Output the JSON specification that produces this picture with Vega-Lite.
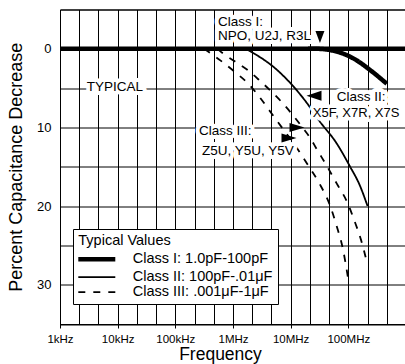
{
  "$schema": "https://vega.github.io/schema/vega-lite/v6.json",
  "width": 346,
  "height": 314.5,
  "autosize": {"type": "none"},
  "padding": {"left": 60, "top": 9.5, "right": 0, "bottom": 40},
  "background": "white",
  "config": {
    "font": "Liberation Sans",
    "view": {"stroke": "black", "strokeWidth": 1},
    "axis": {"domainColor": "black", "domainWidth": 1, "gridColor": "black", "gridOpacity": 1, "gridWidth": 1, "tickColor": "black", "labelColor": "black", "titleColor": "black", "titleFontWeight": "normal", "labelFont": "Liberation Sans", "titleFont": "Liberation Sans"}
  },
  "datasets": {
    "curves": [
      {"cls": "Class I: 1.0pF-100pF", "curve": "I0", "f": 1000, "pct": 0},
      {"cls": "Class I: 1.0pF-100pF", "curve": "I0", "f": 1000000000, "pct": 0},
      {"cls": "Class I: 1.0pF-100pF", "curve": "I1", "f": 20000000, "pct": 0},
      {"cls": "Class I: 1.0pF-100pF", "curve": "I1", "f": 28183829, "pct": 0},
      {"cls": "Class I: 1.0pF-100pF", "curve": "I1", "f": 52723358, "pct": 0.22},
      {"cls": "Class I: 1.0pF-100pF", "curve": "I1", "f": 87096359, "pct": 0.7},
      {"cls": "Class I: 1.0pF-100pF", "curve": "I1", "f": 139636836, "pct": 1.47},
      {"cls": "Class I: 1.0pF-100pF", "curve": "I1", "f": 229086765, "pct": 2.6},
      {"cls": "Class I: 1.0pF-100pF", "curve": "I1", "f": 464158883, "pct": 4.44},
      {"cls": "Class II: 100pF-.01μF", "curve": "II", "f": 1671090, "pct": 0},
      {"cls": "Class II: 100pF-.01μF", "curve": "II", "f": 5915616, "pct": 2.74},
      {"cls": "Class II: 100pF-.01μF", "curve": "II", "f": 11668096, "pct": 4.95},
      {"cls": "Class II: 100pF-.01μF", "curve": "II", "f": 20137242, "pct": 7.12},
      {"cls": "Class II: 100pF-.01μF", "curve": "II", "f": 30549211, "pct": 9.05},
      {"cls": "Class II: 100pF-.01μF", "curve": "II", "f": 62373483, "pct": 12.0},
      {"cls": "Class II: 100pF-.01μF", "curve": "II", "f": 106659612, "pct": 14.96},
      {"cls": "Class II: 100pF-.01μF", "curve": "II", "f": 156675107, "pct": 17.3},
      {"cls": "Class II: 100pF-.01μF", "curve": "II", "f": 215443469, "pct": 20},
      {"cls": "Class III: .001μF-1μF", "curve": "IIIa", "f": 316228, "pct": 0},
      {"cls": "Class III: .001μF-1μF", "curve": "IIIa", "f": 602560, "pct": 1.47},
      {"cls": "Class III: .001μF-1μF", "curve": "IIIa", "f": 1047129, "pct": 2.87},
      {"cls": "Class III: .001μF-1μF", "curve": "IIIa", "f": 1819701, "pct": 4.4},
      {"cls": "Class III: .001μF-1μF", "curve": "IIIa", "f": 2884032, "pct": 6.13},
      {"cls": "Class III: .001μF-1μF", "curve": "IIIa", "f": 4466836, "pct": 8.03},
      {"cls": "Class III: .001μF-1μF", "curve": "IIIa", "f": 6918310, "pct": 9.93},
      {"cls": "Class III: .001μF-1μF", "curve": "IIIa", "f": 11220185, "pct": 12.0},
      {"cls": "Class III: .001μF-1μF", "curve": "IIIa", "f": 19952623, "pct": 14.8},
      {"cls": "Class III: .001μF-1μF", "curve": "IIIa", "f": 31622777, "pct": 17.15},
      {"cls": "Class III: .001μF-1μF", "curve": "IIIa", "f": 46773514, "pct": 19.7},
      {"cls": "Class III: .001μF-1μF", "curve": "IIIa", "f": 63095734, "pct": 22.6},
      {"cls": "Class III: .001μF-1μF", "curve": "IIIa", "f": 81283052, "pct": 25.6},
      {"cls": "Class III: .001μF-1μF", "curve": "IIIa", "f": 100000000, "pct": 29.4},
      {"cls": "Class III: .001μF-1μF", "curve": "IIIb", "f": 537032, "pct": 0},
      {"cls": "Class III: .001μF-1μF", "curve": "IIIb", "f": 676083, "pct": 0.61},
      {"cls": "Class III: .001μF-1μF", "curve": "IIIb", "f": 1071519, "pct": 1.59},
      {"cls": "Class III: .001μF-1μF", "curve": "IIIb", "f": 1819701, "pct": 2.74},
      {"cls": "Class III: .001μF-1μF", "curve": "IIIb", "f": 2884032, "pct": 4.02},
      {"cls": "Class III: .001μF-1μF", "curve": "IIIb", "f": 4786301, "pct": 5.54},
      {"cls": "Class III: .001μF-1μF", "curve": "IIIb", "f": 7244360, "pct": 6.9},
      {"cls": "Class III: .001μF-1μF", "curve": "IIIb", "f": 10715193, "pct": 8.37},
      {"cls": "Class III: .001μF-1μF", "curve": "IIIb", "f": 16218101, "pct": 10.06},
      {"cls": "Class III: .001μF-1μF", "curve": "IIIb", "f": 21877616, "pct": 11.35},
      {"cls": "Class III: .001μF-1μF", "curve": "IIIb", "f": 28840315, "pct": 12.86},
      {"cls": "Class III: .001μF-1μF", "curve": "IIIb", "f": 41686938, "pct": 14.8},
      {"cls": "Class III: .001μF-1μF", "curve": "IIIb", "f": 63095734, "pct": 17.15},
      {"cls": "Class III: .001μF-1μF", "curve": "IIIb", "f": 95499259, "pct": 19.5},
      {"cls": "Class III: .001μF-1μF", "curve": "IIIb", "f": 128824955, "pct": 21.95},
      {"cls": "Class III: .001μF-1μF", "curve": "IIIb", "f": 165958691, "pct": 24.3},
      {"cls": "Class III: .001μF-1μF", "curve": "IIIb", "f": 215443469, "pct": 27.5}
    ],
    "notes": [
      {"txt": "Class I:", "f": 549541, "pct": -3.47},
      {"txt": "NPO, U2J, R3L", "f": 549541, "pct": -1.67},
      {"txt": "TYPICAL", "f": 2904, "pct": 4.9},
      {"txt": "Class II:", "f": 62806000, "pct": 6.19},
      {"txt": "Class III:", "f": 257040, "pct": 10.41},
      {"txt": "Z5U, Y5U, Y5V", "f": 289734, "pct": 13.0}
    ],
    "notesRight": [
      {"txt": "X5F, X7R, X7S", "f": 770000000, "pct": 8.13}
    ],
    "arrows": [
      {"dir": "down", "f": 32211000, "pct": -1.5},
      {"dir": "left", "f": 25360000, "pct": 5.96},
      {"dir": "right", "f": 12882000, "pct": 10.01},
      {"dir": "right", "f": 9354000, "pct": 11.34}
    ]
  },
  "encoding": {
    "x": {
      "field": "f", "type": "quantitative",
      "scale": {"type": "log", "domain": [1000, 1000000000], "nice": false},
      "axis": {
        "values": [1000, 2154.43, 4641.59, 10000, 21544.3, 46415.9, 100000, 215443, 464159, 1000000, 2154430, 4641590, 10000000, 21544300, 46415900, 100000000, 215443000, 464159000, 1000000000],
        "grid": true, "domain": true, "ticks": true, "tickSize": 4,
        "tickOpacity": {"condition": {"test": "abs(log(datum.value)/LN10 - round(log(datum.value)/LN10)) < 0.01", "value": 1}, "value": 0},
        "labelExpr": "abs(log(datum.value)/LN10 - round(log(datum.value)/LN10)) > 0.01 ? '' : datum.value < 5000 ? '1kHz' : datum.value < 50000 ? '10kHz' : datum.value < 500000 ? '100kHz' : datum.value < 5000000 ? '1MHz' : datum.value < 50000000 ? '10MHz' : datum.value < 500000000 ? '100MHz' : ''",
        "labelFlush": false, "labelOverlap": false, "labelFontSize": 11.5, "labelPadding": 5,
        "title": "Frequency", "titleFontSize": 17.5, "titleX": 160, "titlePadding": 1
      }
    },
    "y": {
      "field": "pct", "type": "quantitative",
      "scale": {"domain": [-5, 35], "reverse": true, "zero": false, "nice": false},
      "axis": {
        "values": [-5, 0, 5, 10, 15, 20, 25, 30, 35],
        "grid": true, "domain": true, "ticks": false,
        "labelExpr": "datum.value >= 0 && datum.value % 10 == 0 ? datum.label : ''",
        "labelFontSize": 13, "labelPadding": 9,
        "title": "Percent Capacitance Decrease", "titleFontSize": 18, "titlePadding": 11
      }
    }
  },
  "layer": [
    {
      "data": {"name": "curves"},
      "mark": {"type": "line", "interpolate": "monotone", "color": "black", "strokeCap": "butt", "strokeJoin": "round"},
      "encoding": {
        "detail": {"field": "curve"},
        "strokeDash": {
          "field": "cls", "type": "ordinal",
          "scale": {"domain": ["Class I: 1.0pF-100pF", "Class II: 100pF-.01μF", "Class III: .001μF-1μF"], "range": [[1, 0], [1, 0], [7, 8]]},
          "legend": {"title": "Typical Values", "orient": "none", "legendX": 13, "legendY": 219.5, "fillColor": "white", "strokeColor": "black", "padding": 5.3, "symbolType": "M-3.7,0H3.7", "symbolSize": 100, "symbolStrokeColor": "black", "symbolOffset": 11, "labelOffset": 28.4, "labelFontSize": 14.5, "titleFontSize": 14.5, "titleFontWeight": "normal", "labelColor": "black", "titleColor": "black", "rowPadding": 0, "titlePadding": 3, "labelFont": "Liberation Sans", "titleFont": "Liberation Sans"}
        },
        "strokeWidth": {
          "field": "cls", "type": "ordinal",
          "scale": {"type": "ordinal", "domain": ["Class I: 1.0pF-100pF", "Class II: 100pF-.01μF", "Class III: .001μF-1μF"], "range": [4.5, 1.8, 1.8]},
          "legend": {"title": "Typical Values", "orient": "none", "legendX": 13, "legendY": 219.5, "fillColor": "white", "strokeColor": "black", "padding": 5.3, "symbolType": "M-3.7,0H3.7", "symbolSize": 100, "symbolStrokeColor": "black", "symbolOffset": 11, "labelOffset": 28.4, "labelFontSize": 14.5, "titleFontSize": 14.5, "titleFontWeight": "normal", "labelColor": "black", "titleColor": "black", "rowPadding": 0, "titlePadding": 3, "labelFont": "Liberation Sans", "titleFont": "Liberation Sans"}
        }
      }
    },
    {
      "data": {"name": "notes"},
      "mark": {"type": "text", "align": "left", "baseline": "middle", "fontSize": 13.5, "font": "Liberation Sans", "fill": "white", "stroke": "white", "strokeWidth": 8, "strokeJoin": "round"},
      "encoding": {"text": {"field": "txt"}}
    },
    {
      "data": {"name": "notes"},
      "mark": {"type": "text", "align": "left", "baseline": "middle", "fontSize": 13.5, "font": "Liberation Sans", "fill": "black"},
      "encoding": {"text": {"field": "txt"}}
    },
    {
      "data": {"name": "notesRight"},
      "mark": {"type": "text", "align": "right", "baseline": "middle", "fontSize": 13, "font": "Liberation Sans", "fill": "white", "stroke": "white", "strokeWidth": 7, "strokeJoin": "round"},
      "encoding": {"text": {"field": "txt"}}
    },
    {
      "data": {"name": "notesRight"},
      "mark": {"type": "text", "align": "right", "baseline": "middle", "fontSize": 13, "font": "Liberation Sans", "fill": "black"},
      "encoding": {"text": {"field": "txt"}}
    },
    {
      "data": {"name": "arrows"},
      "mark": {"type": "point", "filled": true, "color": "black", "opacity": 1, "size": 225, "strokeWidth": 0},
      "encoding": {
        "shape": {"field": "dir", "type": "nominal", "scale": {"domain": ["down", "left", "right"], "range": ["M0,0.8L-0.6,-0.8L0.6,-0.8Z", "M-1,0L1,-0.67L1,0.67Z", "M1,0L-1,-0.6L-1,0.6Z"]}, "legend": null}
      }
    }
  ]
}
